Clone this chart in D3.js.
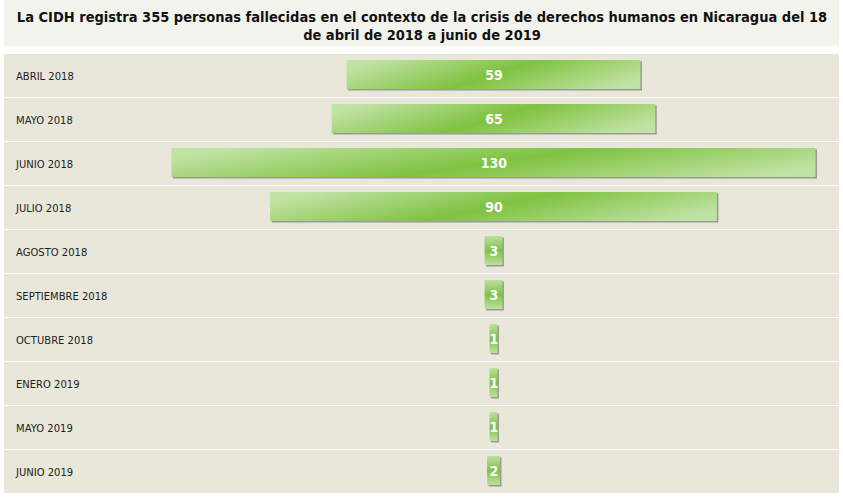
<!DOCTYPE html>
<html><head><meta charset="utf-8">
<script src="https://cdn.jsdelivr.net/npm/d3@7"></script>
<style>html,body{margin:0;padding:0;background:#fff;}svg{display:block;}</style>
</head><body>
<svg id="c" width="843" height="497"></svg>
<script>
const titleLines = ["La CIDH registra 355 personas fallecidas en el contexto de la crisis de derechos humanos en Nicaragua del 18", "de abril de 2018 a junio de 2019"];
const categories = ["ABRIL 2018","MAYO 2018","JUNIO 2018","JULIO 2018","AGOSTO 2018","SEPTIEMBRE 2018","OCTUBRE 2018","ENERO 2019","MAYO 2019","JUNIO 2019"];
const values = [59,65,130,90,3,3,1,1,1,2];

const svg = d3.select("#c");
const defs = svg.append("defs");
const g = defs.append("linearGradient").attr("id","gr")
  .attr("x1",0).attr("y1",0.35).attr("x2",1).attr("y2",0.65);
g.append("stop").attr("offset",0).attr("stop-color","#c0e2a3");
g.append("stop").attr("offset",0.5).attr("stop-color","#7fc241");
g.append("stop").attr("offset",1).attr("stop-color","#c0e2a3");
const gs = defs.append("linearGradient").attr("id","grs")
  .attr("x1",0).attr("y1",0).attr("x2",0).attr("y2",1);
gs.append("stop").attr("offset",0).attr("stop-color","#bde0a0");
gs.append("stop").attr("offset",0.5).attr("stop-color","#80c343");
gs.append("stop").attr("offset",1).attr("stop-color","#bde0a0");

// title box
svg.append("rect").attr("x",4).attr("y",0).attr("width",835).attr("height",46).attr("fill","#f3f3ee");
svg.append("g").selectAll("text").data(titleLines).join("text")
  .attr("x",422).attr("y",(d,i)=>22+i*17.5)
  .attr("text-anchor","middle")
  .attr("font-family","'DejaVu Sans Condensed','DejaVu Sans',sans-serif")
  .attr("font-weight","bold").attr("font-size",14.5).attr("fill","#111")
  .text(d=>d);

const y = d3.scaleBand().domain(categories).range([53,493]).paddingInner(0);
const cx = 493.5;
const w = d3.scaleLinear().domain([0,130]).range([3,644]);

const rows = svg.append("g").selectAll("g").data(categories.map((c,i)=>({c,v:values[i]}))).join("g")
  .attr("transform",d=>`translate(0,${y(d.c)+1})`);
rows.append("rect").attr("x",4).attr("y",0).attr("width",835).attr("height",y.bandwidth()-1).attr("fill","#e9e6da");
rows.append("text").attr("x",16).attr("y",26).attr("font-family","'DejaVu Sans',sans-serif")
  .attr("font-size",10).attr("fill","#222").text(d=>d.c);
// shadow
rows.append("rect").attr("x",d=>cx - w(d.v)/2 + 1.5).attr("y",7.5)
  .attr("width",d=>w(d.v)).attr("height",29).attr("fill","#9a9a96");
rows.append("rect").attr("x",d=>cx - w(d.v)/2).attr("y",6)
  .attr("width",d=>w(d.v)).attr("height",29)
  .attr("fill",d=>d.v>10?"url(#gr)":"url(#grs)");
rows.append("text").attr("x",cx+0.5).attr("y",25.5).attr("text-anchor","middle")
  .attr("font-family","'DejaVu Sans Condensed','DejaVu Sans',sans-serif")
  .attr("font-weight","bold").attr("font-size",14).attr("fill","#fff").text(d=>d.v);
</script>
</body></html>
